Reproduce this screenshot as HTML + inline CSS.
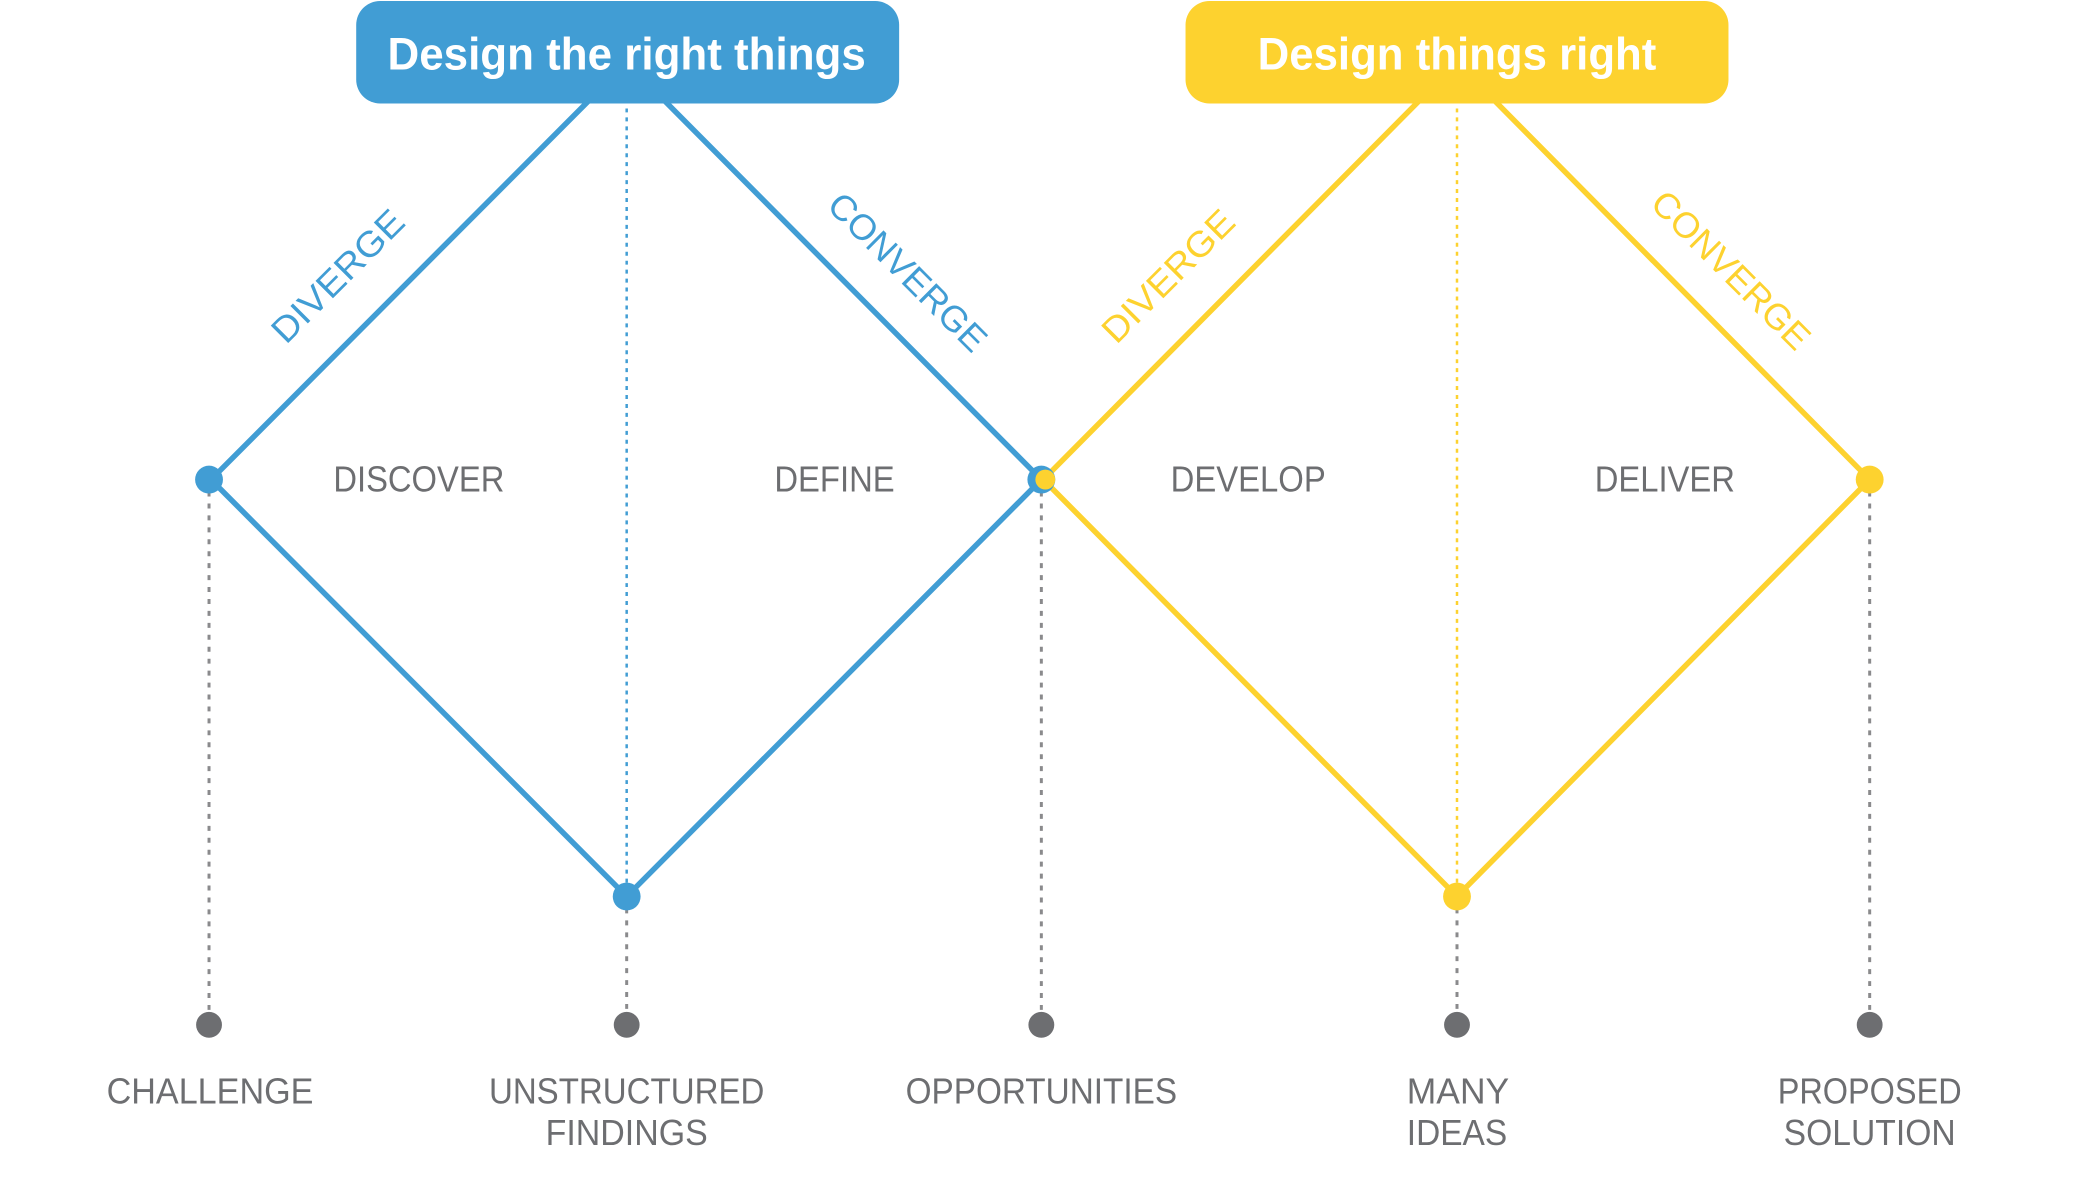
<!DOCTYPE html>
<html><head><meta charset="utf-8"><style>html,body{margin:0;padding:0;background:#fff}svg{display:block}</style></head><body>
<svg width="2079" height="1187" viewBox="0 0 2079 1187" xmlns="http://www.w3.org/2000/svg" font-family="Liberation Sans, sans-serif">
<g transform="translate(1.2,0) scale(0.9944,0.995)">
<g stroke="#8a8a8c" stroke-width="3" stroke-dasharray="5 7">
<line x1="209" y1="482" x2="209" y2="1030"/>
<line x1="629" y1="901" x2="629" y2="1030"/>
<line x1="1046" y1="482" x2="1046" y2="1030"/>
<line x1="1464" y1="901" x2="1464" y2="1030"/>
<line x1="1879" y1="482" x2="1879" y2="1030"/>
</g>
<line x1="629" y1="100" x2="629" y2="901" stroke="#419dd4" stroke-width="2.5" stroke-dasharray="4 5"/>
<line x1="1464" y1="100" x2="1464" y2="901" stroke="#fdd22f" stroke-width="2.5" stroke-dasharray="4 5"/>
<polygon points="629,63 1046,482 629,901 211,482" fill="none" stroke="#419dd4" stroke-width="5.5"/>
<polygon points="1464,63 1879,482 1464,901 1048,482" fill="none" stroke="#fdd22f" stroke-width="5.5"/>
<rect x="357" y="1" width="546" height="103" rx="24" fill="#419dd4"/>
<rect x="1191" y="1" width="546" height="103" rx="24" fill="#fdd22f"/>
<text x="629" y="70" text-anchor="middle" font-weight="bold" font-size="46" fill="#fff" textLength="481" lengthAdjust="spacingAndGlyphs">Design the right things</text>
<text x="1464" y="70" text-anchor="middle" font-weight="bold" font-size="46" fill="#fff" textLength="401" lengthAdjust="spacingAndGlyphs">Design things right</text>
<circle cx="209" cy="482" r="14" fill="#419dd4"/>
<circle cx="629" cy="901" r="14" fill="#419dd4"/>
<circle cx="1046" cy="482" r="14" fill="#419dd4"/>
<circle cx="1050" cy="482" r="10" fill="#fdd22f"/>
<circle cx="1464" cy="901" r="14" fill="#fdd22f"/>
<circle cx="1879" cy="482" r="14" fill="#fdd22f"/>
<g fill="#6d6e71">
<circle cx="209" cy="1030" r="13"/><circle cx="629" cy="1030" r="13"/><circle cx="1046" cy="1030" r="13"/><circle cx="1464" cy="1030" r="13"/><circle cx="1879" cy="1030" r="13"/>
</g>
<g font-size="36" fill="#6d6e71" text-anchor="middle">
<text x="420" y="494" textLength="172" lengthAdjust="spacingAndGlyphs">DISCOVER</text>
<text x="838" y="494" textLength="121" lengthAdjust="spacingAndGlyphs">DEFINE</text>
<text x="1254" y="494" textLength="156" lengthAdjust="spacingAndGlyphs">DEVELOP</text>
<text x="1673" y="494" textLength="141" lengthAdjust="spacingAndGlyphs">DELIVER</text>
<text x="210" y="1109" textLength="208" lengthAdjust="spacingAndGlyphs">CHALLENGE</text>
<text x="629" y="1109" textLength="277" lengthAdjust="spacingAndGlyphs">UNSTRUCTURED</text>
<text x="629" y="1151" textLength="163" lengthAdjust="spacingAndGlyphs">FINDINGS</text>
<text x="1046" y="1109" textLength="273" lengthAdjust="spacingAndGlyphs">OPPORTUNITIES</text>
<text x="1465" y="1109" textLength="103" lengthAdjust="spacingAndGlyphs">MANY</text>
<text x="1464" y="1151" textLength="101" lengthAdjust="spacingAndGlyphs">IDEAS</text>
<text x="1879" y="1109" textLength="185" lengthAdjust="spacingAndGlyphs">PROPOSED</text>
<text x="1879" y="1151" textLength="173" lengthAdjust="spacingAndGlyphs">SOLUTION</text>
</g>
<g font-size="36" text-anchor="middle">
<text transform="translate(338,277) rotate(-45)" y="13" fill="#419dd4" textLength="172" lengthAdjust="spacingAndGlyphs">DIVERGE</text>
<text transform="translate(912,273) rotate(45)" y="13" fill="#419dd4" textLength="209" lengthAdjust="spacingAndGlyphs">CONVERGE</text>
<text transform="translate(1173,277) rotate(-45)" y="13" fill="#fdd22f" textLength="172" lengthAdjust="spacingAndGlyphs">DIVERGE</text>
<text transform="translate(1740,271) rotate(45)" y="13" fill="#fdd22f" textLength="209" lengthAdjust="spacingAndGlyphs">CONVERGE</text>
</g>
</g>
</svg>
</body></html>
